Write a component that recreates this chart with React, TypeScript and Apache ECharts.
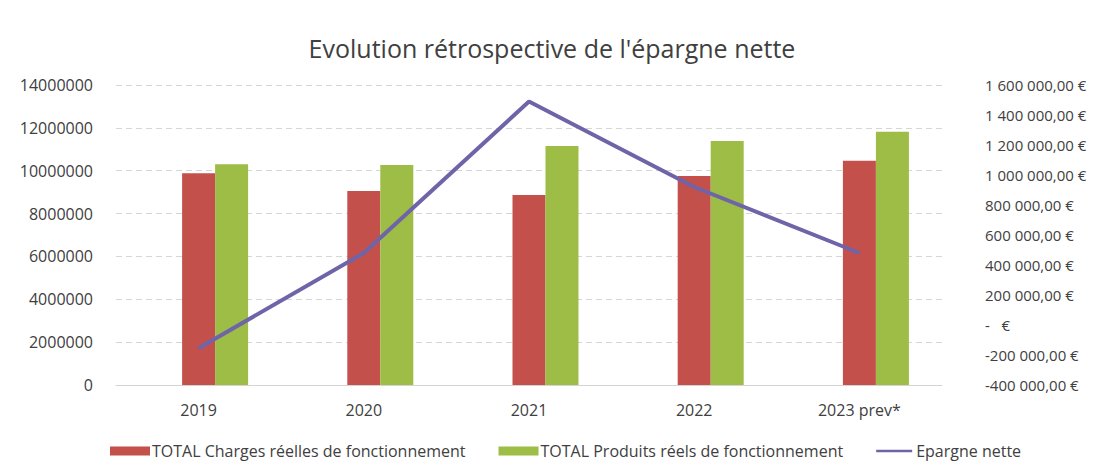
import React, { useEffect, useRef } from "react";
import * as echarts from "echarts";

const categories = ["2019", "2020", "2021", "2022", "2023 prev*"];
const chargesName = "TOTAL Charges réelles de fonctionnement";
const produitsName = "TOTAL Produits réels de fonctionnement";
const epargneName = "Epargne nette";
const charges = [9880000, 9050000, 8870000, 9750000, 10470000];
const produits = [10300000, 10270000, 11150000, 11390000, 11820000];
const epargne = [-155000, 480000, 1490000, 920000, 480000];
const emptySlot = ["-", "-", "-", "-", "-"];

const FONT = "'Open Sans', 'Noto Sans', sans-serif";
const TEXT = "#404040";
const LINE_ICON = "path://M0,0 L0.01,0 Z M0,3.5 L40,3.5 L40,6.5 L0,6.5 Z M0,10 L0.01,10 Z";

function fmtEuro(v: number): string {
  if (v === 0) return "-\u00a0\u00a0\u00a0€";
  const s = Math.abs(v)
    .toFixed(0)
    .replace(/\B(?=(\d{3})+(?!\d))/g, "\u00a0");
  return (v < 0 ? "-" : "") + s + ",00\u00a0€";
}

export default function App() {
  const ref = useRef<HTMLDivElement>(null);
  useEffect(() => {
    if (!ref.current) return;
    const chart = echarts.init(ref.current, undefined, { renderer: "svg" });
    chart.setOption({
      animation: false,
      backgroundColor: "#ffffff",
      textStyle: { fontFamily: FONT },
      title: {
        text: "Evolution rétrospective de l'épargne nette",
        left: "center",
        top: 30,
        textStyle: { fontFamily: FONT, fontSize: 25, fontWeight: "normal", color: TEXT },
      },
      legend: {
        data: [
          { name: chargesName, icon: "rect" },
          { name: produitsName, icon: "rect" },
          { name: epargneName, icon: LINE_ICON },
        ],
        left: 105,
        top: 438,
        itemWidth: 40,
        itemHeight: 9,
        itemGap: 33,
        textStyle: { fontFamily: FONT, fontSize: 16, color: TEXT, padding: [0, 0, 0, -3] },
      },
      grid: { left: 116, right: 162, top: 85, bottom: 87, containLabel: false },
      xAxis: {
        type: "category",
        data: categories,
        axisTick: { show: false },
        axisLine: { lineStyle: { color: "#d4d4d4", width: 1 } },
        axisLabel: { fontFamily: FONT, fontSize: 16, color: TEXT, margin: 17 },
      },
      yAxis: [
        {
          type: "value",
          min: 0,
          max: 14000000,
          interval: 2000000,
          axisLine: { show: false },
          axisTick: { show: false },
          splitLine: { lineStyle: { color: "#d6d6d6", type: [6, 4] } },
          axisLabel: {
            fontFamily: FONT,
            fontSize: 16,
            color: TEXT,
            margin: 23,
            formatter: (v: number) => String(v),
          },
        },
        {
          type: "value",
          min: -400000,
          max: 1600000,
          interval: 200000,
          position: "right",
          axisLine: { show: false },
          axisTick: { show: false },
          splitLine: { show: false },
          axisLabel: {
            fontFamily: FONT,
            fontSize: 15,
            color: TEXT,
            margin: 43,
            align: "left",
            formatter: (v: number) => fmtEuro(v),
          },
        },
      ],
      series: [
        {
          name: "_slot",
          type: "bar",
          data: emptySlot,
          barWidth: 33,
          barGap: "0%",
          yAxisIndex: 0,
        },
        {
          name: chargesName,
          type: "bar",
          data: charges,
          barWidth: 33,
          barGap: "0%",
          yAxisIndex: 0,
          itemStyle: { color: "#c4504c" },
        },
        {
          name: produitsName,
          type: "bar",
          data: produits,
          barWidth: 33,
          barGap: "0%",
          yAxisIndex: 0,
          itemStyle: { color: "#9dbd46" },
        },
        {
          name: epargneName,
          type: "line",
          data: epargne,
          yAxisIndex: 1,
          symbol: "none",
          lineStyle: { color: "#7064a8", width: 4 },
          itemStyle: { color: "#7064a8" },
          z: 5,
        },
      ],
    });
    return () => chart.dispose();
  }, []);
  return (
    <div
      ref={ref}
      style={{ position: "fixed", left: 0, top: 0, width: 1104, height: 472, background: "#fff" }}
    />
  );
}
